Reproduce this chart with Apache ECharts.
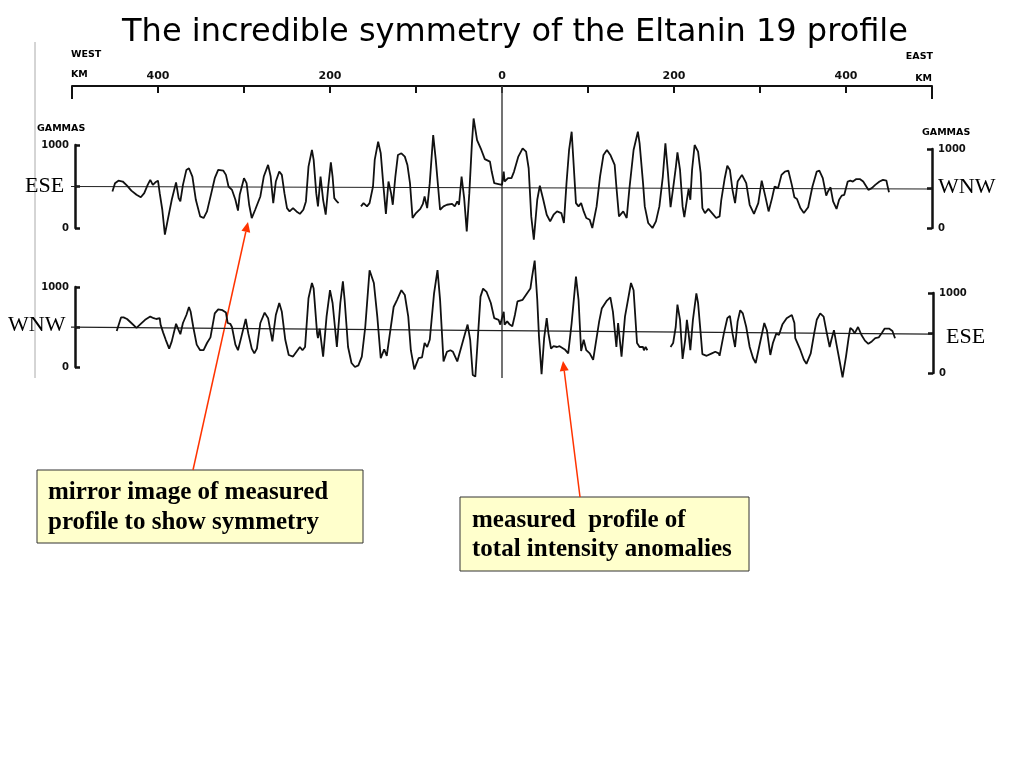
<!DOCTYPE html>
<html>
<head>
<meta charset="utf-8">
<script src="https://cdn.jsdelivr.net/npm/echarts@6/dist/echarts.min.js"></script>
<style>
html,body{margin:0;padding:0;background:#fff;}
#chart{width:1024px;height:768px;}
</style>
</head>
<body>
<div id="chart"></div>
<script>
// ---- Data (distance in km, west negative; anomaly in gammas) ----
const TITLE = 'The incredible symmetry of the Eltanin 19 profile';
const KM_TICK_LABELS = ['', '400', '', '200', '', '0', '', '200', '', '400', ''];
const GAMMA_TICK_LABELS = ['0', '', '1000'];

// Measured profile (lower trace, WNW -> ESE); null marks a gap in the record
const MEASURED_KM = [-448,-443,-440,-436,-431,-425,-421,-415,-409,-405,-402,-398,-397,-394,-391,-387,-384,-379,-376,-374,-371,-367,-364,-362,-359,-355,-351,-347,-343,-339,-337,-334,-330,-325,-321,-319,-316,-314,-310,-307,-303,-298,-295,-291,-288,-285,-281,-276,-272,-267,-263,-259,-256,-252,-248,-243,-239,-235,-232,-229,-225,-221,-219,-215,-214,-212,-208,-204,-200,-197,-192,-188,-185,-183,-179,-175,-171,-167,-163,-159,-154,-149,-145,-141,-137,-134,-132,-126,-122,-117,-113,-109,-106,-102,-97,-93,-90,-87,-84,-79,-75,-72,-68,-64,-60,-57,-52,-45,-40,-37,-34,-31,-29,-25,-22,-18,-13,-9,-4,-2,2,3,6,9,12,15,18,24,29,33,35,38,41,43,46,49,52,54,57,60,64,67,73,77,81,86,89,92,95,98,102,106,108,113,116,122,126,129,133,135,139,143,150,153,157,160,164,165,167,169,182,196,199,202,204,207,210,213,215,217,219,222,226,228,231,233,238,240,244,248,252,253,258,262,265,268,271,274,277,280,284,288,292,295,299,305,308,312,315,319,322,326,331,337,340,341,343,347,351,354,359,363,366,370,374,377,381,383,386,389,393,396,400,403,405,408,410,414,418,422,426,430,434,438,442,445,450,454,457];
const MEASURED_GAMMAS = [450,620,620,600,550,490,530,590,630,610,600,610,530,430,340,230,320,540,460,410,550,650,750,690,500,280,210,210,300,370,390,670,720,710,680,550,540,500,280,210,380,600,420,230,170,230,550,680,610,320,650,800,690,340,150,130,190,250,210,250,860,1050,980,420,360,480,130,630,960,800,250,800,1070,840,250,50,0,20,130,500,1210,1050,630,110,220,140,130,750,840,960,900,630,210,-30,110,120,300,250,340,920,1210,840,70,190,210,190,70,340,530,340,-100,-120,210,880,980,940,800,610,590,530,690,530,570,530,510,650,820,840,920,980,1130,1330,840,380,-90,360,610,420,230,260,250,260,220,170,550,1130,840,200,340,210,170,90,110,570,730,830,870,690,250,550,130,630,1050,960,300,250,250,210,250,210,null,250,300,500,780,590,100,340,590,420,210,590,920,800,420,160,140,120,170,190,170,140,420,610,640,420,250,570,710,670,500,250,110,50,250,550,460,150,300,420,400,530,610,650,550,360,350,210,90,40,170,420,590,670,630,460,250,340,460,280,50,-130,130,360,490,460,420,500,400,330,290,320,360,370,430,480,480,450,360];

// Mirror image of the measured profile (upper trace, ESE -> WNW)
const MIRROR_KM = [-453,-450,-446,-441,-436,-431,-425,-420,-416,-412,-409,-406,-403,-400,-398,-395,-392,-389,-384,-379,-376,-374,-371,-367,-364,-360,-356,-351,-347,-343,-338,-334,-330,-324,-321,-318,-314,-310,-307,-305,-300,-297,-294,-291,-287,-281,-277,-272,-269,-266,-263,-259,-256,-253,-250,-247,-243,-239,-235,-231,-228,-225,-221,-219,-216,-214,-211,-208,-205,-202,-199,-197,-195,-192,-190,-177,-164,-161,-157,-154,-150,-148,-144,-141,-138,-135,-132,-129,-127,-124,-121,-117,-113,-110,-107,-104,-100,-95,-92,-90,-87,-84,-80,-77,-72,-68,-64,-58,-55,-52,-50,-47,-44,-41,-38,-35,-33,-29,-24,-20,-14,-12,-9,-4,0,2,3,7,11,14,19,24,28,31,34,37,41,44,48,52,56,60,64,69,72,75,78,81,83,86,89,92,95,98,102,105,110,114,118,122,126,131,133,136,141,145,148,153,158,160,164,166,170,175,179,183,187,190,193,196,199,202,204,207,210,212,215,217,219,221,224,228,231,233,236,240,245,249,253,255,259,262,265,268,271,274,279,284,288,293,298,302,306,310,314,317,321,325,329,333,337,340,343,347,351,356,361,366,369,373,377,379,382,385,389,392,395,398,402,405,408,412,416,420,426,430,434,439,443,447,448,450];
const MIRROR_GAMMAS = [440,540,570,560,510,450,400,370,420,520,580,520,550,570,420,220,-80,80,340,550,360,320,520,700,720,620,340,140,120,200,420,600,700,690,640,500,460,340,210,400,600,540,280,120,220,380,620,760,620,300,560,680,640,420,240,200,240,200,170,220,320,740,940,820,420,260,620,340,160,500,790,620,360,320,300,null,260,300,260,300,500,820,1040,900,520,170,560,420,280,620,880,900,860,760,540,120,180,230,290,380,240,540,1120,820,220,260,280,290,260,320,280,620,360,-40,420,1020,1320,1060,940,830,800,680,540,530,520,680,560,600,600,680,860,960,920,720,140,-140,340,510,340,160,80,160,200,180,60,540,940,1160,820,300,260,300,200,120,100,0,260,620,880,940,880,760,500,140,200,120,460,940,1160,1020,540,260,60,0,80,260,620,1020,660,250,480,720,910,700,260,130,340,470,340,700,1000,920,660,240,180,230,170,120,140,340,600,750,700,460,300,560,640,540,280,170,300,570,390,200,360,500,480,640,680,690,520,370,350,240,180,250,500,680,690,600,390,440,490,320,230,340,390,400,560,570,560,590,590,560,460,480,520,560,580,570,520,430];

// Reference (zero-anomaly) lines as drawn, slightly tilted in the scan
const REF_KM = [-510, 500];
const MIRROR_REF_GAMMAS = [500, 470];
const MEASURED_REF_GAMMAS = [500, 410];
const CENTER_KM = 0;

// ---- Build ----
function pairs(xs, ys) { return xs.map((x, i) => [x, ys[i] === null ? '-' : ys[i]]); }

const chart = echarts.init(document.getElementById('chart'), null, {renderer: 'canvas'});
const scanFont = '"DejaVu Sans", sans-serif';
const black = '#111';

function bracketY(grid, pos, offset) {
  return {
    type: 'value', gridIndex: grid, position: pos, offset: offset,
    min: 0, max: 1000, interval: 500,
    axisLine: {show: true, onZero: false, lineStyle: {color: black, width: 2.5}},
    axisTick: {show: true, inside: true, length: 5, lineStyle: {color: black, width: 2.5}},
    axisLabel: {show: true, margin: 6, fontSize: 10, fontWeight: 'bold', fontFamily: scanFont, color: black,
      formatter: (v) => GAMMA_TICK_LABELS[Math.round(v / 500)]},
    splitLine: {show: false}
  };
}
function hiddenX(grid) {
  return {type: 'value', gridIndex: grid, min: -500, max: 500, show: false};
}

function arrow(x1, y1, x2, y2) {
  const a = Math.atan2(y2 - y1, x2 - x1), L = 10, W = 4.5;
  const c = Math.cos(a), s = Math.sin(a);
  const bx = x2 - L * c, by = y2 - L * s;
  return [
    {type: 'line', shape: {x1: x1, y1: y1, x2: bx, y2: by}, style: {stroke: '#ff3300', lineWidth: 1.5}},
    {type: 'polygon', shape: {points: [[x2, y2], [bx + W * s, by - W * c], [bx - W * s, by + W * c]]}, style: {fill: '#ff3300'}}
  ];
}
function txt(x, y, text, font, align, vAlign) {
  return {type: 'text', x: x, y: y, style: {text: text, font: font, fill: '#000', textAlign: align || 'left', textVerticalAlign: vAlign || 'middle'}};
}

const labelFont = 'bold 9.5px "DejaVu Sans", sans-serif';
const dirFont = '22px "Liberation Serif", serif';
const boxFont = 'bold 25px "Liberation Serif", serif';

const option = {
  backgroundColor: '#ffffff',
  animation: false,
  title: {
    text: TITLE, left: 510, top: 12, textAlign: 'center',
    textStyle: {fontSize: 32, fontWeight: 'normal', fontFamily: '"DejaVu Sans", sans-serif', color: '#000'}
  },
  grid: [
    {left: 72, top: 86, width: 860, height: 292},
    {left: 72, top: 86, width: 860, height: 292},
    {left: 72, top: 145, width: 860, height: 83},
    {left: 72, top: 149, width: 860, height: 79},
    {left: 72, top: 287, width: 860, height: 80},
    {left: 72, top: 293, width: 860, height: 80}
  ],
  xAxis: [
    {
      type: 'value', gridIndex: 0, position: 'top', min: -500, max: 500, interval: 100,
      axisLine: {show: true, onZero: false, lineStyle: {color: black, width: 2}},
      axisTick: {show: true, inside: true, length: 7, lineStyle: {color: black, width: 2}},
      axisLabel: {show: true, margin: 4, fontSize: 11, fontWeight: 'bold', fontFamily: scanFont, color: black,
        formatter: (v) => KM_TICK_LABELS[Math.round((v + 500) / 100)]},
      splitLine: {show: false}
    },
    {
      type: 'value', gridIndex: 1, position: 'top', min: -500, max: 500, interval: 1000,
      axisLine: {show: false, onZero: false},
      axisTick: {show: true, inside: true, length: 13, lineStyle: {color: black, width: 2}},
      axisLabel: {show: false}, splitLine: {show: false}
    },
    hiddenX(2), hiddenX(3), hiddenX(4), hiddenX(5)
  ],
  yAxis: [
    {type: 'value', gridIndex: 0, min: 0, max: 1, show: false},
    {type: 'value', gridIndex: 1, min: 0, max: 1, show: false},
    bracketY(2, 'left', -3),
    bracketY(3, 'right', 0),
    bracketY(4, 'left', -3),
    bracketY(5, 'right', 1)
  ],
  series: [
    {
      type: 'line', xAxisIndex: 0, yAxisIndex: 0, data: [[CENTER_KM, 0], [CENTER_KM, 1]],
      showSymbol: false, lineStyle: {color: '#444', width: 1.5}, silent: true
    },
    {
      type: 'line', xAxisIndex: 2, yAxisIndex: 2, data: pairs(REF_KM, MIRROR_REF_GAMMAS), clip: false,
      showSymbol: false, lineStyle: {color: '#222', width: 1.2}, silent: true
    },
    {
      type: 'line', xAxisIndex: 4, yAxisIndex: 4, data: pairs(REF_KM, MEASURED_REF_GAMMAS), clip: false,
      showSymbol: false, lineStyle: {color: '#222', width: 1.2}, silent: true
    },
    {
      name: 'mirror image', type: 'line', xAxisIndex: 2, yAxisIndex: 2, data: pairs(MIRROR_KM, MIRROR_GAMMAS),
      clip: false, showSymbol: false, connectNulls: false, lineStyle: {color: black, width: 1.8}
    },
    {
      name: 'measured', type: 'line', xAxisIndex: 4, yAxisIndex: 4, data: pairs(MEASURED_KM, MEASURED_GAMMAS),
      clip: false, showSymbol: false, connectNulls: false, lineStyle: {color: black, width: 1.8}
    }
  ],
  graphic: [].concat(
    [{type: 'line', shape: {x1: 35, y1: 42, x2: 35, y2: 378}, style: {stroke: '#aaaaaa', lineWidth: 1}}],
    [
      txt(71, 55, 'WEST', labelFont),
      txt(71, 75, 'KM', labelFont),
      txt(933, 57, 'EAST', labelFont, 'right'),
      txt(932, 79, 'KM', labelFont, 'right'),
      txt(37, 129, 'GAMMAS', labelFont),
      txt(922, 133, 'GAMMAS', labelFont),
      txt(25, 186, 'ESE', dirFont),
      txt(938, 187, 'WNW', dirFont),
      txt(8, 325, 'WNW', dirFont),
      txt(946, 337, 'ESE', dirFont)
    ],
    [
      {type: 'rect', shape: {x: 37, y: 470, width: 326, height: 73}, style: {fill: '#ffffcc', stroke: '#333', lineWidth: 1}},
      txt(48, 493, 'mirror image of measured', boxFont),
      txt(48, 523, 'profile to show symmetry', boxFont),
      {type: 'rect', shape: {x: 460, y: 497, width: 289, height: 74}, style: {fill: '#ffffcc', stroke: '#333', lineWidth: 1}},
      txt(472, 521, 'measured  profile of', boxFont),
      txt(472, 550, 'total intensity anomalies', boxFont)
    ],
    arrow(193, 470, 248, 222),
    arrow(580, 497, 563, 361)
  )
};
chart.setOption(option);
</script>
</body>
</html>
